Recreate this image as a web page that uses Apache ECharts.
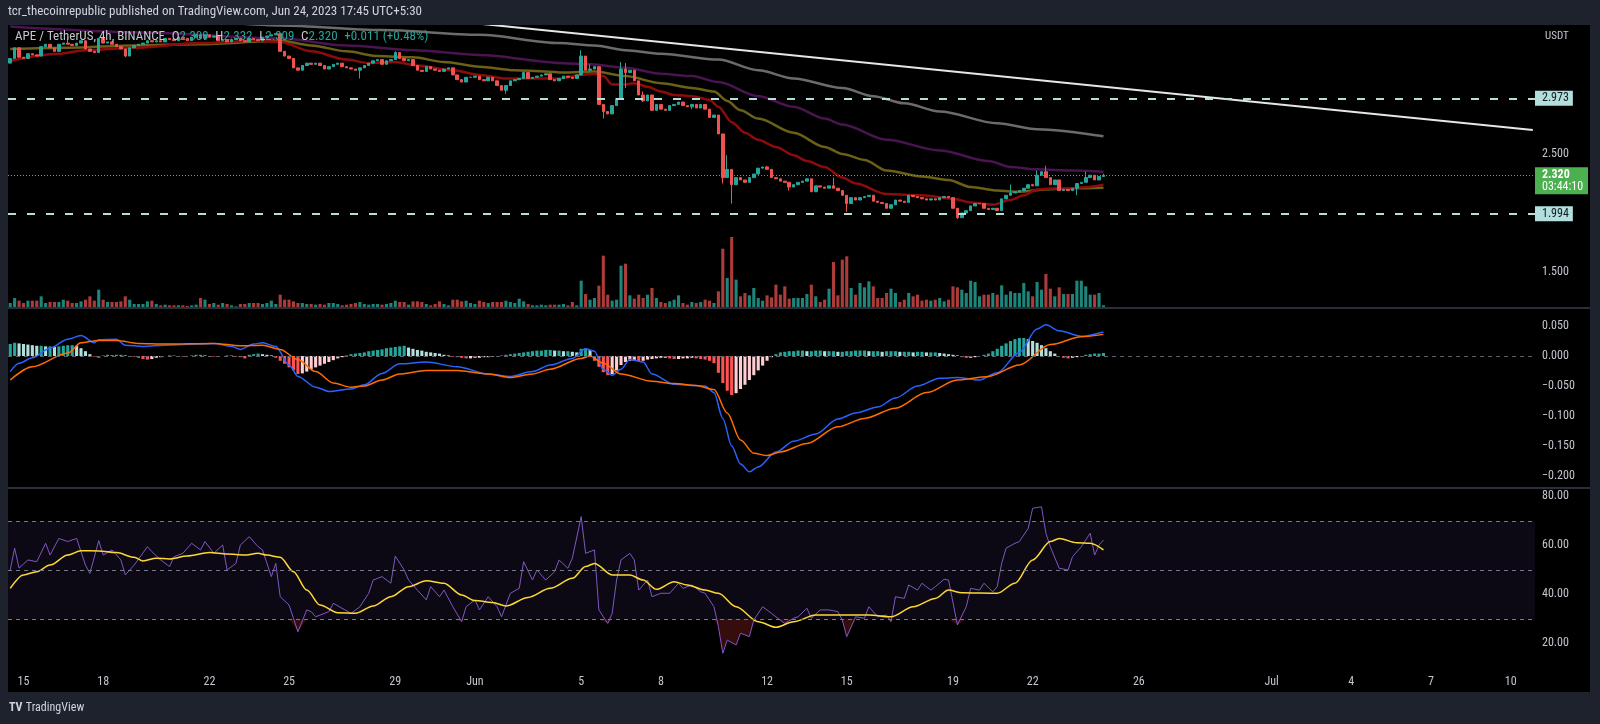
<!DOCTYPE html>
<html><head><meta charset="utf-8">
<script src="https://cdn.jsdelivr.net/npm/echarts@6/dist/echarts.min.js"></script>
<style>html,body{margin:0;background:#000}#c{width:1600px;height:724px}</style>
</head><body><div id="c"></div>
<script>
// APE/USDT 4h, BINANCE - values
const FONT = '"Liberation Sans Narrow","Roboto Condensed","DejaVu Sans Condensed",Roboto,sans-serif';

// time slots: 4h candles from May 14 13:30 (UTC+5:30) out to Jul 10
const START = Date.UTC(2023, 4, 14, 13, 30);
const SLOTS = 345;
const tickDays = ['5-15','5-18','5-22','5-25','5-29','6-1','6-5','6-8','6-12','6-15','6-19','6-22','6-26','7-1','7-4','7-7','7-10'];
const tickText = ['15','18','22','25','29','Jun','5','8','12','15','19','22','26','Jul','4','7','10'];

const firstOpen = 3.27;
const closes = [
3.31,3.40,3.32,3.31,3.35,3.34,3.33,3.41,3.43,3.40, 3.37,3.43,3.44,3.43,3.42,3.44,3.46,3.39,3.37,3.36,
3.48,3.44,3.45,3.43,3.41,3.39,3.33,3.40,3.42,3.43, 3.44,3.46,3.45,3.46,3.45,3.48,3.47,3.46,3.49,3.48,
3.46,3.49,3.51,3.48,3.51,3.49,3.50,3.46,3.47,3.45, 3.47,3.48,3.46,3.45,3.48,3.47,3.46,3.49,3.50,3.51,
3.52,3.37,3.33,3.31,3.23,3.21,3.25,3.27,3.26,3.27, 3.25,3.22,3.24,3.26,3.27,3.24,3.23,3.22,3.21,3.23,
3.25,3.27,3.29,3.30,3.26,3.29,3.30,3.36,3.31,3.29, 3.30,3.25,3.21,3.20,3.24,3.22,3.21,3.20,3.22,3.23,
3.17,3.13,3.11,3.15,3.15,3.16,3.13,3.12,3.15,3.12, 3.08,3.04,3.08,3.12,3.13,3.14,3.19,3.14,3.15,3.16,
3.17,3.18,3.13,3.12,3.14,3.16,3.15,3.14,3.17,3.33, 3.21,3.22,3.24,2.92,2.86,2.84,2.91,2.97,3.22,3.19,
3.21,3.12,3.00,2.95,3.00,2.87,2.92,2.88,2.87,2.91, 2.92,2.94,2.91,2.90,2.92,2.89,2.92,2.88,2.81,2.83,
2.67,2.30,2.37,2.24,2.30,2.28,2.26,2.30,2.33,2.38, 2.39,2.37,2.30,2.29,2.27,2.26,2.22,2.24,2.26,2.27,
2.29,2.18,2.23,2.22,2.21,2.23,2.21,2.19,2.15,2.08, 2.13,2.11,2.13,2.14,2.15,2.10,2.09,2.08,2.04,2.07,
2.11,2.10,2.09,2.15,2.14,2.13,2.12,2.11,2.12,2.11, 2.13,2.14,2.13,2.04,1.96,2.00,2.02,2.06,2.08,2.08,
2.04,2.03,2.04,2.02,2.12,2.15,2.17,2.18,2.19,2.21, 2.24,2.23,2.32,2.35,2.30,2.24,2.28,2.19,2.20,2.19,
2.21,2.25,2.26,2.30,2.32,2.28,2.309,2.32
];
// [candle index, low, high] where a wick sticks out
const wickList = [
[13,null,3.49],[26,3.32,null],[79,3.14,null],[87,null,3.37],[112,3.01,null],[116,null,3.20],
[129,null,3.38],[131,3.20,3.26],[134,2.80,null],[138,null,3.28],[139,3.06,3.27],[143,2.94,3.03],
[154,2.88,null],[161,2.25,null],[162,null,2.49],[163,2.08,null],[171,null,2.40],[176,2.19,null],
[186,null,2.30],[189,2.01,null],[214,1.95,null],[226,null,2.24],[232,null,2.36],[234,null,2.40],
[241,2.15,null],[243,null,2.35],[247,2.309,2.332]
];
const volumes = [
1.5,3.0,2.2,1.5,2.2,2.2,2.2,3.5,1.5,1.8, 1.8,1.8,2.5,2.2,1.5,1.5,2.0,2.5,3.5,2.2,
5.5,2.5,1.8,1.8,1.8,2.0,3.5,2.5,1.2,1.2, 1.2,2.0,2.2,1.2,0.8,1.0,0.8,0.8,0.8,0.8,
0.6,0.8,1.0,3.0,2.5,1.2,1.5,1.0,1.5,1.2, 0.8,0.5,1.2,1.2,1.5,1.5,1.5,1.2,1.5,2.2,
1.2,4.0,
2.5,2.5,2.0,1.5,1.5,1.2,1.2,1.0,1.2,1.0, 1.5,1.5,1.2,0.8,1.0,1.2,1.5,1.8,1.2,1.0,
1.2,1.2,1.0,1.2,1.5,2.2,1.8,1.8,1.0,2.0, 2.0,1.8,1.2,0.8,1.2,2.0,1.2,0.8,2.5,2.5,
2.0,2.2,1.5,1.2,2.2,1.8,1.5,1.8,1.8,1.8, 2.2,1.8,1.5,2.8,2.0,1.2,0.8,0.8,1.0,0.8,
1.0,1.0,
1.0,1.2,0.8,1.8,0.8,8.2,4.2,2.5,3.0,6.7, 15.7,4.0,2.2,2.5,12.7,13.3,3.8,2.8,4.0,3.0,
4.0,6.0,3.0,1.8,1.5,2.0,2.5,3.8,1.5,1.0, 1.8,1.5,1.8,2.5,2.2,1.5,5.0,17.8,9.0,21.3,
8.5,3.5,4.5,3.8,6.0,3.0,2.2,3.8,3.2,7.0, 4.0,6.5,2.8,3.0,3.0,3.0,4.2,7.0,3.5,1.8,
2.5,5.8,13.8,3.8,14.5,
15.5,6.0,4.0,7.5,6.2,8.0,6.5,3.0,3.0,4.5, 5.8,4.5,1.8,2.5,4.5,3.5,4.0,2.2,2.5,2.2,
2.5,3.0,2.0,2.5,6.5,6.2,5.5,4.5,8.2,7.8, 3.5,4.0,4.0,4.5,4.0,6.8,4.0,5.0,4.5,4.5,
7.5,5.0,3.5,7.8,5.5,10.2,5.8,3.5,6.2,4.2, 4.2,4.2,8.2,8.2,6.5,4.0,4.0,4.5,0.8
];
// moving averages on price, [candle index, value]
const ema20 = [[0,3.29],[11,3.35],[17,3.38],[28,3.40],[43,3.44],[55,3.46],[61,3.45],[68,3.37],[76,3.30],[81,3.27],[87,3.28],[92,3.25],[100,3.21],[106,3.17],[112,3.14],[118,3.14],[124,3.14],[129,3.17],[132,3.18],[134,3.16],[136,3.09],[139,3.09],[141,3.10],[144,3.07],[147,3.03],[150,3.00],[154,2.99],[158,2.96],[160,2.90],[163,2.77],[166,2.68],[169,2.62],[173,2.56],[177,2.49],[180,2.44],[184,2.39],[188,2.30],[191,2.25],[198,2.16],[206,2.15],[213,2.12],[217,2.09],[222,2.07],[226,2.11],[229,2.15],[232,2.20],[237,2.21],[240,2.21],[243,2.22],[247,2.24]];
const ema50 = [[0,3.39],[13,3.40],[28,3.42],[43,3.43],[61,3.46],[68,3.42],[76,3.37],[83,3.33],[91,3.32],[98,3.28],[106,3.24],[114,3.21],[121,3.20],[125,3.19],[132,3.20],[139,3.16],[147,3.10],[154,3.06],[159,3.03],[162,2.95],[165,2.87],[169,2.80],[177,2.68],[184,2.56],[188,2.50],[193,2.45],[198,2.36],[206,2.31],[212,2.28],[217,2.22],[223,2.19],[228,2.18],[234,2.20],[240,2.21],[247,2.215]];
const ema100 = [[0,3.58],[30,3.53],[61,3.48],[76,3.42],[91,3.38],[106,3.34],[125,3.27],[131,3.26],[139,3.23],[147,3.18],[154,3.16],[160,3.11],[169,2.99],[177,2.90],[184,2.80],[188,2.75],[198,2.62],[210,2.53],[221,2.44],[226,2.39],[232,2.37],[240,2.36],[247,2.35]];
const ema200 = [[0,3.72],[30,3.66],[61,3.59],[84,3.55],[106,3.51],[124,3.44],[132,3.42],[139,3.38],[147,3.35],[160,3.30],[169,3.21],[177,3.14],[188,3.06],[195,2.99],[202,2.93],[210,2.86],[223,2.76],[232,2.71],[247,2.65]];
const trendLine = [[100,3.627],[344,2.704]];
const levels = [2.973, 1.994];
const lastPrice = 2.320;
const lastChange = '+0.011 (+0.48%)';
const countdown = '03:44:10';

// MACD pane
const macdHist = [
.020,.022,.021,.020,.019,.018,.017,.017,.016,.016, .015,.016,.017,.018,.018,.017,.013,.008,.003,-.001,
-.003,.001,.002,.001,.002,.002,.001,.000,-.001,-.003, -.005,-.006,-.005,-.003,-.002,.000,.001,.001,.000,-.001,
.000,.001,.002,.002,.001,.000,-.001,-.001,.000,.001, .001,-.001,-.002,-.004,.002,.003,.004,.003,.002,.001,
-.003,-.008,-.013,-.019,-.024,-.030,-.029,-.026,-.022,-.019, -.016,-.013,-.010,-.007,-.004,-.002,.001,.003,.004,.005,
.006,.008,.009,.010,.011,.013,.014,.015,.016,.017, .014,.012,.010,.009,.007,.006,.005,.004,.002,.001,
-.001,-.002,-.003,-.004,-.004,-.003,-.003,-.002,-.002,-.001, .000,.001,.002,.003,.004,.005,.006,.007,.008,.009,
.009,.010,.010,.009,.009,.008,.008,.007,.006,.012, .013,.010,-.008,-.018,-.027,-.032,-.030,-.024,-.015,-.010,
-.008,-.008,-.009,-.008,-.006,-.005,-.004,-.003,-.003,-.004, -.005,-.005,-.004,-.004,-.003,-.004,-.005,-.006,-.008,-.012,
-.028,-.045,-.058,-.065,-.062,-.055,-.048,-.040,-.032,-.024, -.016,-.008,-.002,.003,.006,.007,.008,.008,.009,.009,
.008,.008,.009,.009,.008,.008,.008,.007,.007,.008, .008,.009,.009,.009,.008,.008,.008,.007,.008,.008,
.008,.007,.007,.007,.006,.007,.007,.006,.006,.006, .005,.004,.003,.002,.001,-.002,-.003,-.003,-.002,.000,
.002,.004,.008,.012,.017,.021,.025,.028,.030,.030, .028,.025,.022,.018,.013,.008,.004,.000,-.003,-.004,
-.003,-.002,.000,.002,.003,.004,.004,.005
];
const macdLine = [[0,-.026],[2,-.012],[5,-.003],[9,.013],[13,.028],[16,.034],[19,.022],[20,.027],[24,.028],[26,.018],[30,.016],[35,.018],[43,.020],[46,.021],[50,.016],[52,.011],[55,.020],[57,.022],[60,.016],[63,-.015],[65,-.034],[69,-.052],[72,-.059],[77,-.055],[80,-.048],[84,-.029],[88,-.013],[94,-.010],[101,-.018],[108,-.030],[113,-.034],[118,-.026],[122,-.015],[127,-.004],[130,.012],[132,.008],[134,-.022],[136,-.032],[138,-.022],[140,-.006],[143,-.010],[145,-.030],[150,-.047],[154,-.049],[157,-.050],[159,-.061],[161,-.104],[163,-.150],[165,-.180],[167,-.193],[169,-.185],[173,-.160],[177,-.142],[182,-.130],[187,-.105],[191,-.095],[196,-.085],[200,-.070],[205,-.050],[210,-.037],[214,-.036],[219,-.040],[223,-.028],[228,.006],[232,.045],[234,.052],[237,.042],[242,.033],[247,.040]];
const signalLine = [[0,-.040],[5,-.018],[13,.005],[16,.022],[20,.026],[24,.026],[29,.021],[35,.020],[46,.021],[52,.017],[57,.018],[61,.011],[65,-.006],[69,-.026],[73,-.045],[77,-.052],[80,-.050],[84,-.040],[88,-.030],[94,-.024],[101,-.024],[108,-.030],[113,-.036],[118,-.030],[122,-.022],[129,-.004],[131,.000],[134,-.012],[138,-.030],[145,-.042],[150,-.046],[155,-.049],[159,-.056],[162,-.095],[165,-.140],[168,-.162],[171,-.166],[174,-.160],[180,-.146],[187,-.118],[193,-.104],[200,-.087],[207,-.061],[214,-.040],[221,-.034],[228,-.015],[235,.019],[242,.032],[247,.036]];

// RSI pane
const rsi = [[0,50.0],[1,58.9],[2,50.8],[4,54.1],[6,53.4],[8,60.9],[9,56.1],[11,62.9],[13,61.6],[15,62.9],[17,52.0],[18,48.6],[20,62.0],[21,56.1],[23,58.2],[25,54.1],[26,48.0],[28,52.0],[31,59.5],[32,57.5],[34,54.1],[36,51.4],[37,55.4],[39,56.8],[41,60.9],[43,58.2],[44,61.6],[46,56.8],[48,60.2],[49,50.0],[51,52.7],[52,60.2],[54,63.6],[56,59.5],[57,58.2],[59,47.3],[60,52.7],[61,39.1],[63,35.7],[65,24.8],[67,33.7],[68,33.0],[69,30.9],[72,33.0],[73,36.4],[77,32.3],[79,35.0],[81,40.5],[82,45.9],[84,47.3],[86,44.6],[87,55.7],[89,50.0],[90,45.9],[92,41.8],[94,37.8],[95,43.2],[97,39.1],[98,41.8],[100,35.0],[102,28.9],[103,35.0],[105,37.8],[106,33.7],[108,39.1],[110,35.0],[111,30.9],[113,40.5],[115,42.5],[116,53.4],[118,45.9],[119,50.0],[121,45.9],[123,49.3],[124,54.1],[126,50.7],[127,54.8],[129,71.8],[130,56.8],[132,58.2],[133,33.7],[135,28.2],[136,32.3],[137,45.9],[138,54.1],[140,56.8],[141,54.1],[142,41.8],[144,45.9],[145,39.1],[147,40.5],[149,40.5],[151,44.6],[152,42.5],[154,43.9],[156,41.1],[157,40.5],[159,35.0],[160,26.9],[161,16.0],[162,21.4],[164,19.4],[165,24.2],[167,22.8],[168,29.6],[170,35.0],[172,32.3],[173,30.9],[175,28.2],[177,30.3],[178,30.9],[180,34.4],[181,30.3],[183,33.7],[185,33.7],[187,33.0],[188,29.6],[189,22.8],[191,30.9],[193,30.3],[194,35.0],[196,30.9],[198,31.6],[199,28.9],[200,39.1],[202,38.4],[203,43.9],[205,41.8],[206,44.6],[208,41.8],[209,43.2],[211,46.2],[212,45.9],[214,27.6],[216,35.0],[217,42.5],[219,41.8],[220,44.6],[222,41.1],[223,43.2],[224,52.7],[225,58.9],[227,60.9],[228,61.6],[230,67.0],[231,75.2],[233,75.8],[234,65.0],[235,59.5],[237,50.7],[239,50.0],[240,55.4],[242,59.5],[244,65.0],[245,56.1],[246,60.2],[247,62.2]];
const rsiMa = [[0,42.5],[3,48.0],[6,49.3],[9,52.0],[13,56.1],[16,57.9],[20,57.8],[24,57.1],[28,55.2],[30,53.7],[33,54.8],[36,54.5],[40,55.7],[45,57.1],[49,56.5],[53,56.1],[56,56.8],[58,56.1],[61,55.2],[64,49.3],[67,41.8],[70,35.7],[74,32.6],[78,32.3],[82,35.3],[86,39.1],[90,43.2],[94,45.6],[98,44.6],[102,39.8],[105,37.5],[109,36.7],[112,35.3],[117,38.8],[122,42.5],[127,46.6],[130,51.4],[132,52.7],[136,48.0],[140,48.0],[143,45.9],[146,42.1],[150,45.2],[153,43.9],[157,41.8],[160,40.5],[164,35.0],[169,28.9],[173,26.6],[177,28.9],[182,31.6],[188,31.6],[194,31.6],[199,30.9],[204,35.0],[209,38.4],[212,41.8],[215,40.7],[223,40.5],[227,44.6],[231,54.1],[235,61.6],[237,62.9],[241,61.1],[244,60.9],[247,58.2]];
const rsiBands = [70, 50, 30];

// ---- build ----
const pad = n => String(n).padStart(2, '0');
const cats = [];
for (let k = 0; k < SLOTS; k++) {
  const d = new Date(START + k * 4 * 3600e3);
  cats.push(`${d.getUTCMonth()+1}-${d.getUTCDate()} ${pad(d.getUTCHours())}:${pad(d.getUTCMinutes())}`);
}
const tickMap = new Map(tickDays.map((d, i) => [d + ' 01:30', tickText[i]]));

const opens = closes.map((c, i) => i ? closes[i-1] : firstOpen);
const wickMap = new Map(wickList.map(w => [w[0], w]));
const candles = closes.map((c, i) => {
  const o = opens[i], w = wickMap.get(i) || [];
  return [o, c, Math.min(o, c, w[1] ?? Infinity), Math.max(o, c, w[2] ?? -Infinity)];
});
const volData = volumes.map((v, i) => ({value: v, itemStyle: {color: closes[i] >= opens[i] ? 'rgba(38,166,154,0.8)' : 'rgba(239,83,80,0.72)'}}));
const histData = macdHist.map((h, i) => {
  const p = i ? macdHist[i-1] : h;
  const col = h >= 0 ? (h >= p ? '#26a69a' : '#b2dfdb') : (h < p ? '#ff5252' : '#ffcdd2');
  return {value: h, itemStyle: {color: col}};
});

const labelColor = '#c3c6ce';
const xAx = (gi, show) => ({
  type: 'category', gridIndex: gi, data: cats, boundaryGap: true,
  axisLine: {show: false}, axisTick: {show: false}, splitLine: {show: false},
  axisLabel: show ? {
    interval: (idx, val) => tickMap.has(val), formatter: v => tickMap.get(v) || '',
    color: labelColor, fontSize: 12, fontFamily: FONT, margin: 8
  } : {show: false}
});
const yAx = (gi, min, max, vals, fmt) => ({
  type: 'value', gridIndex: gi, position: 'right', min, max, scale: true,
  axisLine: {show: false}, axisTick: {show: false}, splitLine: {show: false},
  axisLabel: vals ? {customValues: vals, formatter: fmt, color: labelColor, fontSize: 12, fontFamily: FONT, margin: 7} : {show: false}
});
const line = (xi, yi, data, color, width, smooth = 0.3) => ({
  type: 'line', xAxisIndex: xi, yAxisIndex: yi, data, showSymbol: false, smooth, smoothMonotone: 'x',
  lineStyle: {color, width}, silent: true, z: 3
});
const minus = v => (v < 0 ? '\u2212' : '') + Math.abs(v).toFixed(3);

const chart = echarts.init(document.getElementById('c'));
chart.setOption({
  animation: false,
  backgroundColor: '#000',
  grid: [
    {left: 8, right: 65, top: 25, height: 283},
    {left: 8, right: 65, top: 309, height: 179},
    {left: 8, right: 65, top: 489, height: 179}
  ],
  xAxis: [xAx(0, false), xAx(1, false), xAx(2, true)],
  yAxis: [
    yAx(0, 1.1949, 3.5932, [1.5, 2.5], v => v.toFixed(3)),
    yAx(0, 0, 84.9, null),
    yAx(1, -0.22, 0.0783, [0.05, 0, -0.05, -0.1, -0.15, -0.2], minus),
    yAx(2, 10, 83.06, [20, 40, 60, 80], v => v.toFixed(2))
  ],
  series: [
    {type: 'bar', xAxisIndex: 0, yAxisIndex: 1, data: volData, barWidth: '70%', silent: true, z: 1},
    line(0, 0, ema200, '#6b6b6b', 2.5),
    line(0, 0, ema100, '#4a1450', 2.5),
    line(0, 0, ema50, '#6b6015', 2.5),
    line(0, 0, ema20, '#8c0c0c', 2.5),
    line(0, 0, trendLine, '#e6e6e6', 2, false),
    {
      type: 'candlestick', xAxisIndex: 0, yAxisIndex: 0, data: candles, barWidth: '68%', silent: true, z: 4,
      itemStyle: {color: '#26a69a', color0: '#ef5350', borderColor: '#26a69a', borderColor0: '#ef5350', borderWidth: 1},
      markLine: {
        symbol: 'none', silent: true, label: {show: false},
        data: [
          ...levels.map(v => ({yAxis: v, lineStyle: {color: '#b2dfdb', type: [8, 11], width: 2}})),
          {yAxis: lastPrice, lineStyle: {color: '#4caf50', type: [1, 2], width: 1}}
        ]
      }
    },
    {
      type: 'bar', xAxisIndex: 1, yAxisIndex: 2, data: histData, barWidth: '70%', silent: true, z: 2,
      markLine: {symbol: 'none', silent: true, label: {show: false},
        data: [{yAxis: 0, lineStyle: {color: '#5d606b', type: [4, 4], width: 1}}]}
    },
    line(1, 2, macdLine, '#2962ff', 1.5),
    line(1, 2, signalLine, '#ff6d00', 1.5),
    {
      type: 'line', xAxisIndex: 2, yAxisIndex: 3, data: rsi.map(([i, v]) => [i, Math.min(v, 30)]),
      showSymbol: false, silent: true, lineStyle: {opacity: 0}, areaStyle: {origin: 30, color: 'rgba(140,30,30,0.55)'}, z: 2,
      markArea: {silent: true, itemStyle: {color: 'rgba(126,87,194,0.1)'}, data: [[{yAxis: 30}, {yAxis: 70}]]},
      markLine: {symbol: 'none', silent: true, label: {show: false},
        data: rsiBands.map(v => ({yAxis: v, lineStyle: {color: '#787b86', type: [4, 4], width: 1}}))}
    },
    line(2, 3, rsi, '#7e57c2', 1, false),
    line(2, 3, rsiMa, '#fdd835', 1.5)
  ]
});

// overlay: frame, header, legend and price-scale tags
const yPx = v => chart.convertToPixel({yAxisIndex: 0}, v);
const frame = '#1e222d';
const tag = (v, txt) => ({
  type: 'text', x: 1535, y: yPx(v), z: 110,
  style: {text: txt, font: `12px ${FONT}`, fill: '#131722', backgroundColor: '#b2dfdb', padding: [2, 4, 1, 7], verticalAlign: 'middle'}
});
const py = yPx(lastPrice);
chart.setOption({
  graphic: [
    {type: 'rect', z: 100, shape: {x: 0, y: 0, width: 1600, height: 25}, style: {fill: frame}},
    {type: 'rect', z: 100, shape: {x: 0, y: 0, width: 8, height: 724}, style: {fill: frame}},
    {type: 'rect', z: 100, shape: {x: 1590, y: 0, width: 10, height: 724}, style: {fill: frame}},
    {type: 'rect', z: 100, shape: {x: 0, y: 692, width: 1600, height: 32}, style: {fill: frame}},
    {type: 'rect', z: 100, shape: {x: 8, y: 307, width: 1582, height: 2}, style: {fill: '#2a2e39'}},
    {type: 'rect', z: 100, shape: {x: 8, y: 487, width: 1582, height: 2}, style: {fill: '#2a2e39'}},
    {type: 'text', z: 101, x: 8, y: 12, style: {text: 'tcr_thecoinrepublic published on TradingView.com, Jun 24, 2023 17:45 UTC+5:30',
      font: `13px ${FONT}`, fill: '#d1d4dc', verticalAlign: 'middle'}},
    {type: 'text', z: 101, x: 15, y: 37, style: {
      text: `{n|APE / TetherUS, 4h, BINANCE}  {k|O}{v|${candles[247][0].toFixed(3)}}  {k|H}{v|${candles[247][3].toFixed(3)}}  {k|L}{v|${candles[247][2].toFixed(3)}}  {k|C}{v|${lastPrice.toFixed(3)}}  {v|${lastChange}}`,
      verticalAlign: 'middle',
      rich: {
        n: {font: `13px ${FONT}`, fill: '#c3c6ce'},
        k: {font: `13px ${FONT}`, fill: '#c3c6ce'},
        v: {font: `13px ${FONT}`, fill: '#26a69a'}
      }}},
    {type: 'text', z: 101, x: 1545, y: 36, style: {text: 'USDT', font: `11px ${FONT}`, fill: '#c3c6ce', verticalAlign: 'middle'}},
    ...levels.map(v => tag(v, v.toFixed(3))),
    {type: 'rect', z: 109, shape: {x: 1535, y: py - 8, width: 53, height: 27}, style: {fill: '#4caf50'}},
    {type: 'text', z: 110, x: 1542, y: py, style: {text: lastPrice.toFixed(3), font: `bold 12px ${FONT}`, fill: '#fff', verticalAlign: 'middle'}},
    {type: 'text', z: 110, x: 1542, y: py + 12, style: {text: countdown, font: `12px ${FONT}`, fill: '#fff', verticalAlign: 'middle'}},
    {type: 'text', z: 101, x: 9, y: 708, style: {text: '{a|TV} {b|TradingView}', verticalAlign: 'middle',
      rich: {a: {font: `bold 12px ${FONT}`, fill: '#d1d4dc'}, b: {font: `12px ${FONT}`, fill: '#d1d4dc'}}}}
  ]
});
</script>
</body></html>
